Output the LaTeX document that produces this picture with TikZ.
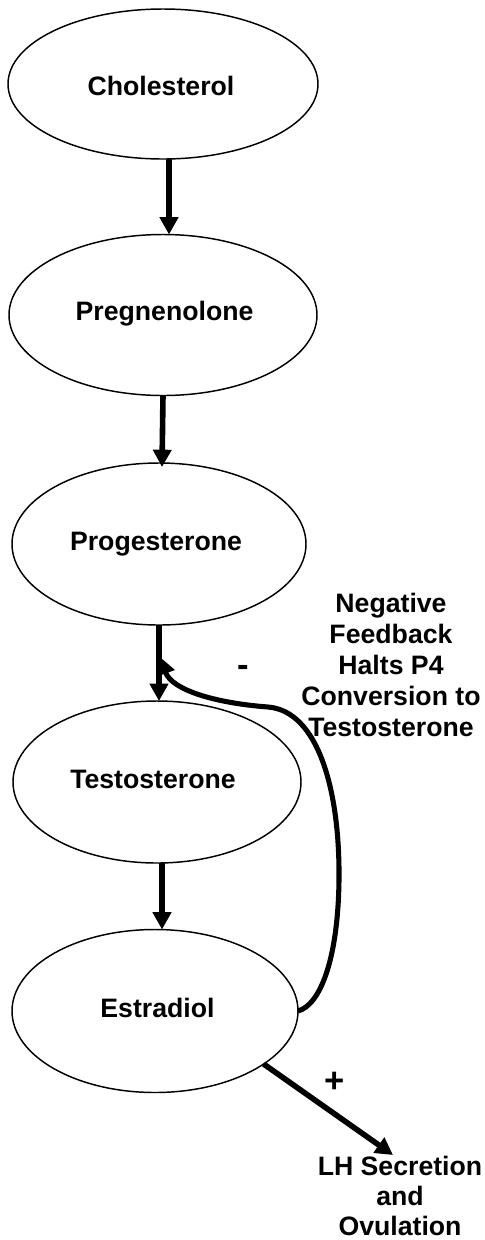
\documentclass[tikz,border=0pt]{standalone}
\usepackage{fontspec}
\setmainfont{Liberation Sans}
\usetikzlibrary{arrows.meta,calc,shapes.geometric}
\begin{document}
\begin{tikzpicture}[x=0.75pt,y=-0.75pt,
  ell/.style={draw,ellipse,line width=1.1pt,inner sep=0pt,outer sep=0pt},
  lbl/.style={font=\fontsize{20}{23.3}\selectfont\bfseries,inner sep=0pt,anchor=base},
  note/.style={font=\fontsize{20}{23.3}\selectfont\bfseries,inner sep=0pt,align=center,anchor=north},
  sign/.style={font=\fontsize{26}{30}\selectfont\bfseries,inner sep=0pt,anchor=base},
  arr/.style={line width=4.2pt,-{Triangle[length=13pt,width=13.5pt]}},
  fb/.style={line width=3.8pt,-{Triangle[length=13pt,width=13.5pt]}}]
\useasboundingbox (0,0) rectangle (485,1240);
% ellipses
\node[ell,minimum width=232.5pt,minimum height=112.5pt] (cho) at (163,84) {};
\node[ell,minimum width=231pt,minimum height=120.75pt] (pre) at (163,315) {};
\node[ell,minimum width=220.5pt,minimum height=121.5pt] (pro) at (159,544) {};
\node[ell,minimum width=216pt,minimum height=121.5pt] (tes) at (157,782) {};
\node[ell,minimum width=214.5pt,minimum height=122.25pt] (est) at (155,1011) {};
% labels
\node[lbl] (tcho) at (161,95) {Cholesterol};
\node[lbl] (tpre) at (164.5,320) {Pregnenolone};
\node[lbl] (tpro) at (156,550) {Progesterone};
\node[lbl] (ttes) at (153,788) {Testosterone};
\node[lbl] (test) at (157.5,1017) {Estradiol};
\node[note] (neg) at (391,593) {Negative\\Feedback\\Halts P4\\Conversion to\\Testosterone};
\node[note,font=\fontsize{20}{22.6}\selectfont\bfseries] (lh) at (400,1156) {LH Secretion\\and\\Ovulation};
\node[sign] (minus) at (243,676) {-};
\node[sign] (plus) at (335,1092) {+};
% connectors
\draw[arr] ($(cho.south)+(6,0)$) -- ($(pre.north)+(6,0)$);
\draw[arr] (pre.south) -- ($(pro.north)+(3,4)$);
\draw[arr] (pro.south) -- (pro.south |- tes.north);
\draw[arr] ($(tes.south)+(5,0)$) -- ($(est.north)+(7,0)$);
\coordinate (lhtip) at (393,1155);
\draw[arr] (est.-26) -- (lhtip);
\coordinate (fbtip) at (160,657);
\draw[fb] (est.east) .. controls (320,1005) and (338,960) .. (339,880)
  .. controls (340,790) and (318,711) .. (268,707)
  .. controls (215,703) and (172,690) .. (fbtip);
\end{tikzpicture}
\end{document}
